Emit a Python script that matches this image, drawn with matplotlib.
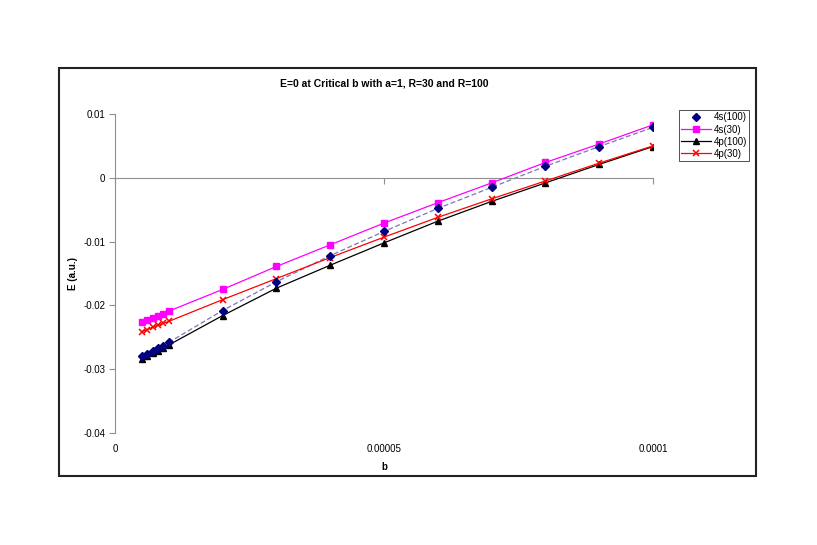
import matplotlib
matplotlib.use("Agg")
import matplotlib.pyplot as plt
from matplotlib.patches import Rectangle

plt.rcParams['font.family'] = ['Liberation Sans', 'DejaVu Sans']

# wartosci b
b = [0.000005, 0.000006, 0.000007, 0.000008, 0.000009, 0.00001,
     0.00002, 0.00003, 0.00004, 0.00005, 0.00006, 0.00007,
     0.00008, 0.00009, 0.0001]

# energie E (a.u.)
e_4s_100 = [-0.0280, -0.0276, -0.0272, -0.0267, -0.0263, -0.0258,
            -0.0208, -0.0163, -0.0122, -0.0084, -0.0048, -0.0015,
            0.0018, 0.0049, 0.0079]
e_4s_30 = [-0.0226, -0.0223, -0.0220, -0.0216, -0.0213, -0.0209,
           -0.0175, -0.0139, -0.0105, -0.0071, -0.0039, -0.0008,
           0.0024, 0.0053, 0.0083]
e_4p_100 = [-0.0284, -0.0280, -0.0275, -0.0271, -0.0267, -0.0262,
            -0.0216, -0.0173, -0.0137, -0.0102, -0.0068, -0.0037,
            -0.0008, 0.0021, 0.0049]
e_4p_30 = [-0.0241, -0.0238, -0.0234, -0.0231, -0.0228, -0.0225,
           -0.0191, -0.0158, -0.0125, -0.0093, -0.0062, -0.0033,
           -0.0005, 0.0023, 0.0050]

fig = plt.figure(figsize=(8.17, 5.45), dpi=100)
ax = fig.add_axes([115 / 817, 1 - 433 / 545, 538 / 817, 319 / 545])

# ramka wykresu
fig.patches.append(Rectangle((59 / 817, 1 - 476 / 545), 697 / 817, 408 / 545,
                             transform=fig.transFigure, fill=False,
                             edgecolor='#222222', linewidth=1.5))

# serie
ax.plot(b, e_4s_100, color='#7878b8', linestyle=(0, (4, 2)), linewidth=0.9, zorder=2)
ax.plot(b, e_4s_100, linestyle='none', marker='D', color='#000080',
        markersize=4.5, label='4s(100)', zorder=4)
ax.plot(b, e_4s_30, color='#ff00ff', marker='s', markersize=4.8,
        linewidth=0.9, label='4s(30)', zorder=3)
ax.plot(b, e_4p_100, color='black', marker='^', markersize=4.8,
        linewidth=0.9, label='4p(100)', zorder=3)
ax.plot(b, e_4p_30, color='red', marker='x', markersize=5, markeredgewidth=1.1,
        linewidth=0.9, label='4p(30)', zorder=3)

ax.set_xlim(0, 0.0001)
ax.set_ylim(-0.04, 0.01)

# os x na wysokosci y=0, etykiety na dole
for s in ['top', 'right']:
    ax.spines[s].set_visible(False)
ax.spines['bottom'].set_position(('data', 0))
ax.spines['bottom'].set_color('#909090')
ax.spines['left'].set_color('#909090')
ax.spines['bottom'].set_linewidth(0.8)
ax.spines['left'].set_linewidth(0.8)

ax.set_xticks([0, 0.00005, 0.0001])
ax.tick_params(axis='x', direction='out', length=4, color='#909090', labelbottom=False)
ax.set_yticks([0.01, 0, -0.01, -0.02, -0.03, -0.04])
ax.set_yticklabels(['0.01', '0', '-0.01', '-0.02', '-0.03', '-0.04'])
ax.tick_params(axis='y', direction='out', length=4, color='#909090', labelsize=7, pad=3)

sec = ax.secondary_xaxis('bottom')
sec.set_xticks([0, 0.00005, 0.0001])
sec.set_xticklabels(['0', '0.00005', '0.0001'])
sec.tick_params(length=0, labelsize=7, pad=8)
sec.spines['bottom'].set_visible(False)
sec.set_xlabel('b', fontsize=7, fontweight='bold', labelpad=6)

ax.set_ylabel('E (a.u.)', fontsize=7, fontweight='bold', labelpad=4)
ax.set_title('E=0 at Critical b with a=1, R=30 and R=100', fontsize=7.5,
             fontweight='bold', pad=20)

leg = ax.legend(loc='upper left', bbox_to_anchor=(679 / 817, 1 - 110 / 545),
                bbox_transform=fig.transFigure, fontsize=7, frameon=True,
                fancybox=False, edgecolor='black', handlelength=3.0,
                borderpad=0.25, labelspacing=0.22, handletextpad=0.3,
                borderaxespad=0)
leg.get_frame().set_linewidth(0.6)

plt.savefig('out.png', dpi=100)
